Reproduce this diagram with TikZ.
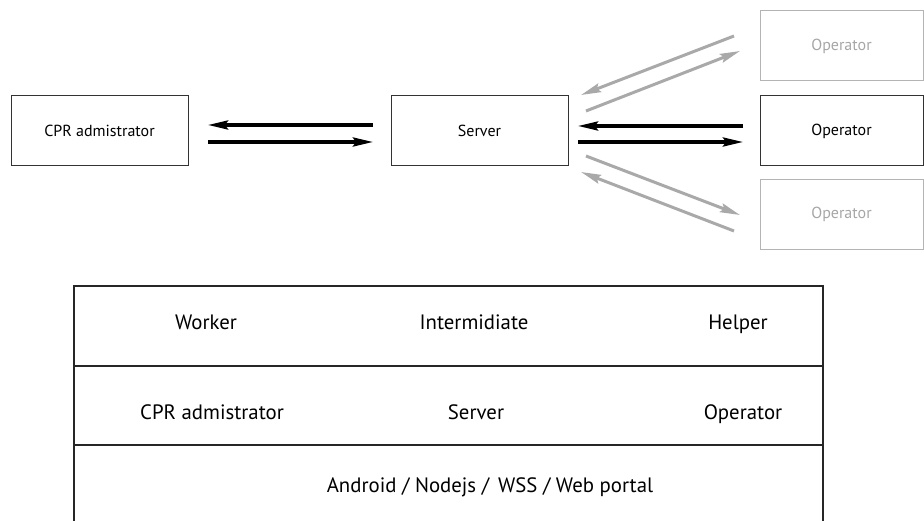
\documentclass[tikz,border=0pt]{standalone}
\usepackage{fontspec}
\setmainfont{PT Sans}
\usetikzlibrary{arrows.meta}
\definecolor{lgray}{HTML}{B4B4B4}
\definecolor{tgray}{HTML}{A6A6A6}
\definecolor{agray}{HTML}{A9A9A9}
\definecolor{bdark}{HTML}{333333}
\begin{document}
\begin{tikzpicture}[x=1pt,y=-1pt,
  box/.style={draw=bdark,line width=1pt,minimum width=177pt,minimum height=70pt,inner sep=0pt,font=\fontsize{16}{19}\selectfont},
  gbox/.style={draw=lgray,line width=1pt,minimum width=163pt,minimum height=70pt,inner sep=0pt,text=tgray,font=\fontsize{16}{19}\selectfont},
  arr/.style={line width=3.3pt,-{Stealth[length=20pt,width=9pt,inset=3pt]}},
  garr/.style={arr,draw=agray,line width=3pt},
  tline/.style={line width=1.5pt,draw=black!85},
  ttext/.style={anchor=base,inner sep=0pt,font=\fontsize{20.8}{24}\selectfont}]
\useasboundingbox (0,0) rectangle (924,521);
\node[box] (cpr) at (99.5,131) {CPR admistrator};
\node[box] (srv) at (479.5,131) {Server};
\node[box,minimum width=163pt] (opm) at (841.5,131) {Operator};
\node[gbox] (opt) at (841.5,46) {Operator};
\node[gbox] (opb) at (841.5,214.5) {Operator};
% black arrows
\coordinate (a1s) at (373,125);
\coordinate (a1e) at (208,125);
\coordinate (a2s) at (208,142);
\coordinate (a2e) at (373,142);
\draw[arr] (a1s) -- (a1e);
\draw[arr] (a2s) -- (a2e);
\coordinate (b1s) at (743,126);
\coordinate (b1e) at (578,126);
\coordinate (b2s) at (578,142);
\coordinate (b2e) at (743,142);
\draw[arr] (b1s) -- (b1e);
\draw[arr] (b2s) -- (b2e);
% gray arrows
\coordinate (g1s) at (734,36);
\coordinate (g1e) at (581,95);
\coordinate (g2s) at (586,111);
\coordinate (g2e) at (740,51);
\coordinate (g3s) at (586,156);
\coordinate (g3e) at (740,215);
\coordinate (g4s) at (734,231);
\coordinate (g4e) at (581,172);
\draw[garr] (g1s) -- (g1e);
\draw[garr] (g2s) -- (g2e);
\draw[garr] (g3s) -- (g3e);
\draw[garr] (g4s) -- (g4e);
% table
\draw[tline] (74,522) -- (74,286) -- (823,286) -- (823,522);
\draw[tline] (74,366) -- (823,366);
\draw[tline] (74,445) -- (823,445);
\node[ttext] (w) at (206,330) {Worker};
\node[ttext] (i) at (474,330) {Intermidiate};
\node[ttext] (h) at (738,330) {Helper};
\node[ttext] (c2) at (212,419) {CPR admistrator};
\node[ttext] (s2) at (476,419) {Server};
\node[ttext] (o2) at (743,419) {Operator};
\node[ttext] (a) at (490,492) {Android / Nodejs /\, WSS / Web portal};
\end{tikzpicture}
\end{document}
